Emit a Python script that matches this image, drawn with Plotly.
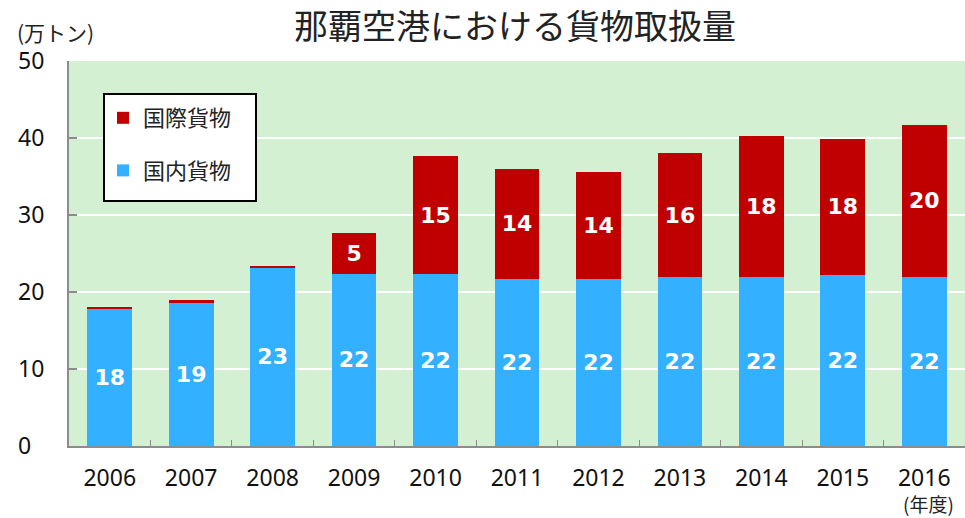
import plotly.graph_objects as go

years = ["2006", "2007", "2008", "2009", "2010", "2011", "2012", "2013", "2014", "2015", "2016"]
domestic = [17.9, 18.7, 23.2, 22.4, 22.3, 21.7, 21.7, 21.9, 21.9, 22.2, 22.0]
international = [0.2, 0.2, 0.2, 5.2, 15.4, 14.3, 13.9, 16.1, 18.4, 17.7, 19.7]
y_ticks = [0, 10, 20, 30, 40, 50]
y_ticktext = ["0\u2007", "10", "20", "30", "40", "50"]

title_text = "那覇空港における貨物取扱量"
unit_text = "(万トン)"
year_unit_text = "(年度)"
names = ["国内貨物\u2003", "国際貨物\u2003"]

def labels(vals):
    return [str(int(round(v))) if v >= 1 else "" for v in vals]

BLUE = "#33B0FF"
RED = "#C00000"
BG = "#D3F0D3"
AXIS = "#8C8C8C"
FONT = "Noto Sans, Noto Sans CJK JP, sans-serif"

fig = go.Figure()
fig.add_trace(go.Bar(
    x=years, y=domestic, name=names[0], marker=dict(color=BLUE, line=dict(width=0)),
    text=labels(domestic), textposition="inside", insidetextanchor="middle", textangle=0,
    textfont=dict(family="DejaVu Sans", size=22, color="white", weight="bold"),
    legendgroup="d", legendrank=2, hoverinfo="x+y",
))
fig.add_trace(go.Bar(
    x=years, y=international, name=names[1], marker=dict(color=RED, line=dict(width=0)),
    text=labels(international), textposition="inside", insidetextanchor="middle", textangle=0,
    textfont=dict(family="DejaVu Sans", size=22, color="white", weight="bold"),
    legendgroup="i", legendrank=1, hoverinfo="x+y",
))

W, H = 965, 518
L, R, T, B = 69, 0, 61, 72
pw, ph = W - L - R, H - T - B

def px(x):
    return (x - L) / pw

def py(y):
    return (H - B - y) / ph

fig.update_layout(
    width=W, height=H,
    margin=dict(l=L, r=R, t=T, b=B, autoexpand=False),
    paper_bgcolor="white", plot_bgcolor=BG,
    barmode="stack", bargap=0.45,
    font=dict(family=FONT, size=24, color="#222222"),
    showlegend=True,
    legend=dict(
        x=px(103), y=py(97), xanchor="left", yanchor="top",
        bgcolor="rgba(0,0,0,0)", borderwidth=0,
        font=dict(family="Noto Sans CJK JP", size=22, color="#222222"),
        traceorder="grouped", tracegroupgap=21,
        itemwidth=30,
    ),
    xaxis=dict(
        type="category", showline=True, linecolor=AXIS, linewidth=2,
        ticks="inside", tickson="boundaries", ticklen=6, tickcolor=AXIS, tickwidth=1,
        showgrid=False, tickfont=dict(size=23, color="#111111"), ticklabelstandoff=10,
        fixedrange=True,
    ),
    yaxis=dict(
        range=[0, 50], tickvals=y_ticks, ticktext=y_ticktext,
        showline=True, linecolor=AXIS, linewidth=2,
        ticks="inside", ticklen=8, tickcolor=AXIS, tickwidth=2,
        showgrid=True, gridcolor="white", gridwidth=2, zeroline=False,
        tickfont=dict(size=23, color="#111111"), ticklabelstandoff=18,
        fixedrange=True,
    ),
    shapes=[
        dict(type="rect", xref="paper", yref="paper",
             x0=px(104), x1=px(256), y0=py(94), y1=py(201),
             fillcolor="white", line=dict(color="black", width=2), layer="above"),
    ],
    annotations=[
        dict(text=title_text, xref="paper", yref="paper", x=px(515), y=py(25),
             xanchor="center", yanchor="middle", showarrow=False,
             font=dict(family="Noto Sans CJK JP", size=34, color="#222222")),
        dict(text=unit_text, xref="paper", yref="paper", x=px(15), y=py(32),
             xanchor="left", yanchor="middle", showarrow=False,
             font=dict(family="Noto Sans CJK JP", size=21, color="#222222")),
        dict(text=year_unit_text, xref="paper", yref="paper", x=px(928), y=py(518),
             xanchor="center", yanchor="bottom", showarrow=False, borderpad=0,
             font=dict(family="Noto Sans CJK JP", size=19, color="#222222")),
    ],
)

fig.write_html("out.html", config={"displayModeBar": False},
               post_script="document.body.style.margin='0px';document.body.style.overflow='hidden';")
